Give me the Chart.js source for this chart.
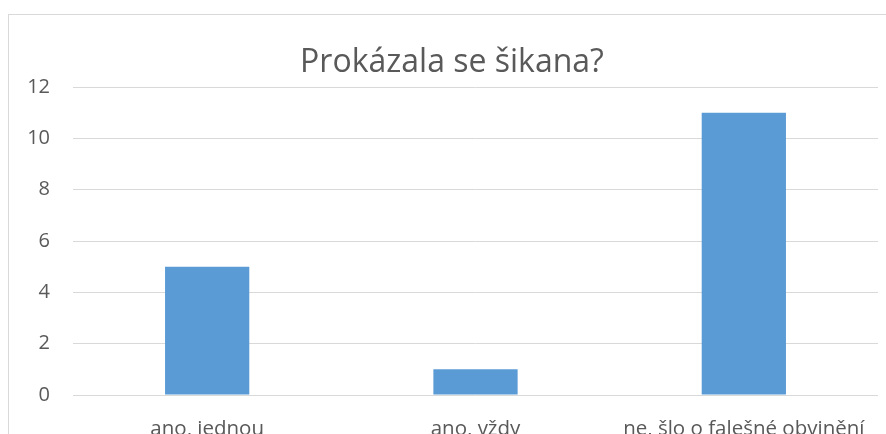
<!DOCTYPE html>
<html>
<head>
<meta charset="utf-8">
<script src="https://cdn.jsdelivr.net/npm/chart.js@4/dist/chart.umd.min.js"></script>
<style>
  html, body { margin: 0; padding: 0; background: #fff; overflow: hidden; }
  #frame { position: absolute; left: 8px; top: 14px; width: 900px; height: 460px; border: 1px solid #d9d9d9; box-sizing: border-box; }
  #wrap { position: absolute; left: 0; top: 0; width: 886px; height: 460px; }
</style>
</head>
<body>
<div id="frame"></div>
<div id="wrap"><canvas id="myChart"></canvas></div>
<script>
const categories = ["ano, jednou", "ano, vždy", "ne, šlo o falešné obvinění"];
const counts = [5, 1, 11];
const yTicks = [0, 2, 4, 6, 8, 10, 12];

const textColor = "#595959";
const fontFamily = "'Open Sans', 'Noto Sans', sans-serif";

new Chart(document.getElementById("myChart").getContext("2d"), {
  type: "bar",
  data: {
    labels: categories,
    datasets: [
      {
        label: "Prokázala se šikana?",
        data: counts,
        backgroundColor: "#5b9bd5",
        barPercentage: 1,
        categoryPercentage: 0.314
      }
    ]
  },
  options: {
    responsive: true,
    maintainAspectRatio: false,
    animation: false,
    // some left padding pushes the centred title right, like the Excel frame
    layout: { padding: { left: 26, right: 8, top: 0, bottom: 5 } },
    plugins: {
      legend: { display: false },
      tooltip: { enabled: false },
      title: {
        display: true,
        text: "Prokázala se šikana?",
        color: textColor,
        font: { family: fontFamily, size: 32, weight: "normal" },
        padding: { top: 44, bottom: 4.6 }
      }
    },
    scales: {
      x: {
        grid: { display: false },
        border: { display: false },
        ticks: {
          color: textColor,
          font: { family: fontFamily, size: 20.5 },
          padding: 14,
          maxRotation: 0
        },
        afterFit: scale => { scale.height = 60; }
      },
      y: {
        min: 0,
        max: 12,
        afterBuildTicks: scale => { scale.ticks = yTicks.map(v => ({ value: v })); },
        grid: { color: "#d9d9d9", lineWidth: 1, drawTicks: false },
        border: { display: false },
        ticks: {
          color: textColor,
          font: { family: fontFamily, size: 20 },
          padding: 23
        },
        afterFit: scale => { scale.width = 47; }
      }
    }
  }
});
</script>
</body>
</html>
